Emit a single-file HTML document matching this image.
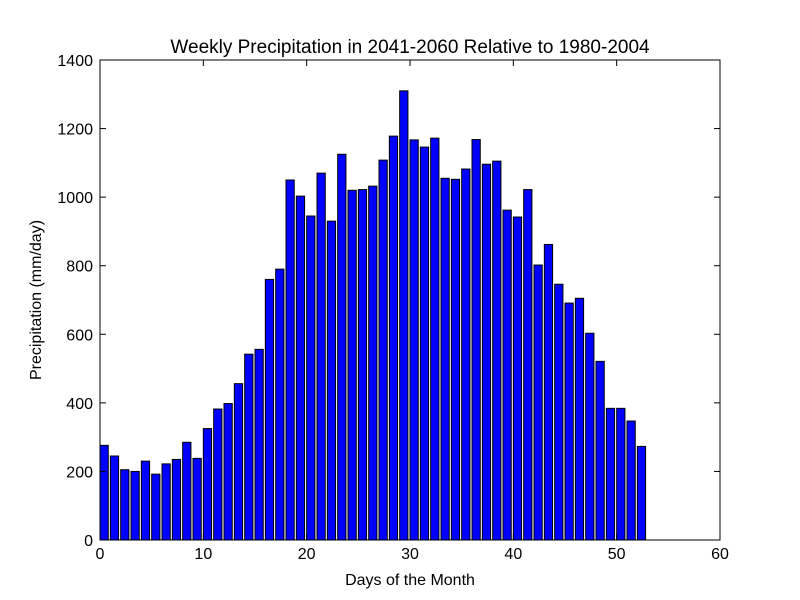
<!DOCTYPE html>
<html><head><meta charset="utf-8"><style>
body{margin:0;background:#fff;}
svg{display:block;font-family:"Liberation Sans","DejaVu Sans",sans-serif;}
</style></head><body>
<svg id="chart" width="800" height="600">
<rect width="800" height="600" fill="#fff"/>
<text x="410" y="53" font-size="19" text-anchor="middle">Weekly Precipitation in 2041-2060 Relative to 1980-2004</text>
<text x="410" y="585" font-size="16" text-anchor="middle">Days of the Month</text>
<text x="0" y="0" font-size="16" text-anchor="middle" transform="translate(41,300) rotate(-90)">Precipitation (mm/day)</text>
<g id="bars"></g>
<g id="axes"></g>
</svg>
<script>
const categories = Array.from({length:53},(_,i)=>i);
const values = [276,245,205,200,230,192,222,235,285,238,325,382,398,456,542,556,760,790,1050,1003,945,1070,930,1125,1020,1022,1032,1108,1178,1310,1167,1146,1172,1055,1052,1082,1168,1096,1105,962,942,1022,802,862,746,691,705,603,521,384,384,347,273];
const xTicks = [0,10,20,30,40,50,60];
const yTicks = [0,200,400,600,800,1000,1200,1400];
const L=100,R=720,T=60,B=540;
const xs=v=>L+(v/60)*(R-L);
const ys=v=>B-(v/1400)*(B-T);
const ns="http://www.w3.org/2000/svg";
const bars=document.getElementById('bars');
categories.forEach((c,i)=>{
  const r=document.createElementNS(ns,'rect');
  r.setAttribute('x',xs(c));r.setAttribute('width',xs(c+0.8)-xs(c));
  r.setAttribute('y',ys(values[i]));r.setAttribute('height',B-ys(values[i]));
  r.setAttribute('fill','#0000ff');r.setAttribute('stroke','#000');r.setAttribute('stroke-width','1');
  
  
  bars.appendChild(r);
});
const ax=document.getElementById('axes');
const frame=document.createElementNS(ns,'rect');
frame.setAttribute('x',L);frame.setAttribute('y',T);frame.setAttribute('width',R-L);frame.setAttribute('height',B-T);
frame.setAttribute('fill','none');frame.setAttribute('stroke','#000');


ax.appendChild(frame);
function line(x1,y1,x2,y2){const l=document.createElementNS(ns,'line');l.setAttribute('x1',x1);l.setAttribute('y1',y1);l.setAttribute('x2',x2);l.setAttribute('y2',y2);l.setAttribute('stroke','#000');


ax.appendChild(l);}
xTicks.forEach(t=>{const x=xs(t);line(x,B,x,B-6);line(x,T,x,T+6);
  const tx=document.createElementNS(ns,'text');tx.setAttribute('x',x);tx.setAttribute('y',B+19);tx.setAttribute('font-size','16');tx.setAttribute('text-anchor','middle');tx.textContent=t;
  
  
  ax.appendChild(tx);});
yTicks.forEach(t=>{const y=ys(t);line(L,y,L+6,y);line(R,y,R-6,y);
  const tx=document.createElementNS(ns,'text');tx.setAttribute('x',L-7);tx.setAttribute('y',y+6);tx.setAttribute('font-size','16');tx.setAttribute('text-anchor','end');tx.textContent=t;
  
  
  ax.appendChild(tx);});
</script>
</body></html>
